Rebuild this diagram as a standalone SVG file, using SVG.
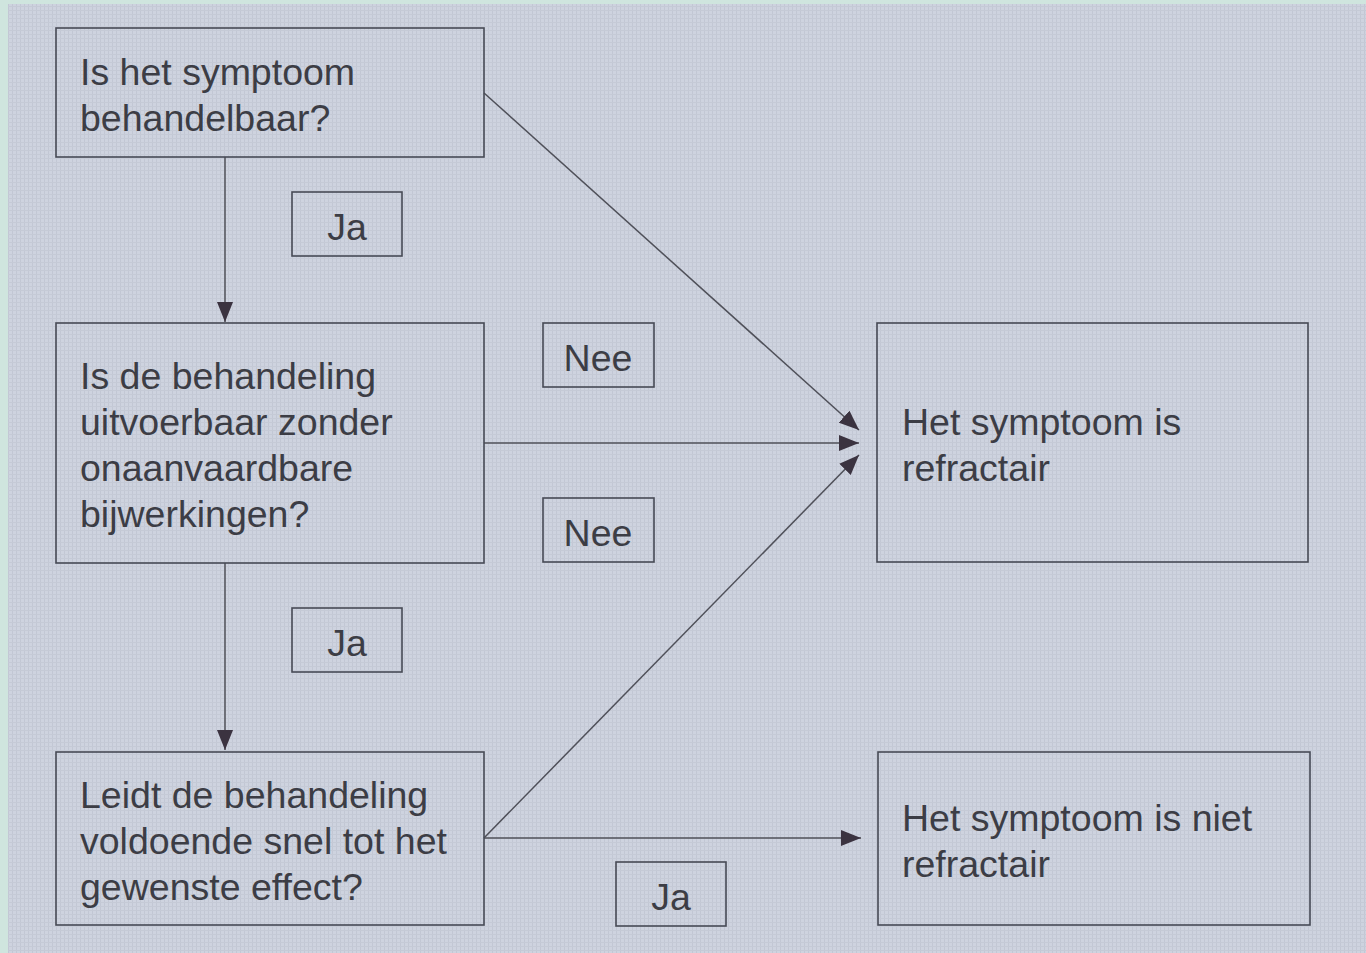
<svg xmlns="http://www.w3.org/2000/svg" width="1366" height="953" viewBox="0 0 1366 953">
<defs>
<pattern id="tex" width="4" height="4" patternUnits="userSpaceOnUse">
<rect width="4" height="4" fill="#ced3df"/>
<rect x="0" y="0" width="1" height="4" fill="#c2c7d4"/>
<rect x="0" y="2" width="4" height="1" fill="#c5cad6"/>
</pattern>
<marker id="ah" viewBox="0 0 20 16" refX="20" refY="8" markerWidth="20" markerHeight="16" markerUnits="userSpaceOnUse" orient="auto">
<path d="M0,0 L20,8 L0,16 Z" fill="#3b3340"/>
</marker>
<style>
.box{fill:none;stroke:#474a55;stroke-width:1.6}
.t{font-family:"Liberation Sans",Arial,Helvetica,sans-serif;font-size:37.5px;fill:#3c3d45}
.c{text-anchor:middle}
.ln{stroke:#4f5059;stroke-width:1.5;fill:none}
</style>
</defs>
<rect width="1366" height="953" fill="#cfe5de"/>
<rect x="8" y="4" width="1358" height="949" fill="url(#tex)"/>

<g id="connectors">
<line class="ln" x1="225" y1="157" x2="225" y2="322" marker-end="url(#ah)"/>
<line class="ln" x1="225" y1="563" x2="225" y2="750" marker-end="url(#ah)"/>
<line class="ln" x1="484" y1="93" x2="859" y2="430" marker-end="url(#ah)"/>
<line class="ln" x1="484" y1="443" x2="859" y2="443" marker-end="url(#ah)"/>
<line class="ln" x1="484" y1="838" x2="859" y2="455" marker-end="url(#ah)"/>
<line class="ln" x1="484" y1="838" x2="861" y2="838" marker-end="url(#ah)"/>
</g>

<g id="q1">
<rect class="box" x="56" y="28" width="428" height="129"/>
<text class="t" x="80" y="85">Is het symptoom</text>
<text class="t" x="80" y="131">behandelbaar?</text>
</g>
<g id="q2">
<rect class="box" x="56" y="323" width="428" height="240"/>
<text class="t" x="80" y="389">Is de behandeling</text>
<text class="t" x="80" y="435">uitvoerbaar zonder</text>
<text class="t" x="80" y="481">onaanvaardbare</text>
<text class="t" x="80" y="527">bijwerkingen?</text>
</g>
<g id="q3">
<rect class="box" x="56" y="752" width="428" height="173"/>
<text class="t" x="80" y="808">Leidt de behandeling</text>
<text class="t" x="80" y="854">voldoende snel tot het</text>
<text class="t" x="80" y="900">gewenste effect?</text>
</g>
<g id="r1">
<rect class="box" x="877" y="323" width="431" height="239"/>
<text class="t" x="902" y="435">Het symptoom is</text>
<text class="t" x="902" y="481">refractair</text>
</g>
<g id="r2">
<rect class="box" x="878" y="752" width="432" height="173"/>
<text class="t" x="902" y="831">Het symptoom is niet</text>
<text class="t" x="902" y="877">refractair</text>
</g>
<g id="l-ja1">
<rect class="box" x="292" y="192" width="110" height="64"/>
<text class="t c" x="347" y="240">Ja</text>
</g>
<g id="l-nee1">
<rect class="box" x="543" y="323" width="111" height="64"/>
<text class="t c" x="598" y="371">Nee</text>
</g>
<g id="l-nee2">
<rect class="box" x="543" y="498" width="111" height="64"/>
<text class="t c" x="598" y="546">Nee</text>
</g>
<g id="l-ja2">
<rect class="box" x="292" y="608" width="110" height="64"/>
<text class="t c" x="347" y="656">Ja</text>
</g>
<g id="l-ja3">
<rect class="box" x="616" y="862" width="110" height="64"/>
<text class="t c" x="671" y="910">Ja</text>
</g>
</svg>
